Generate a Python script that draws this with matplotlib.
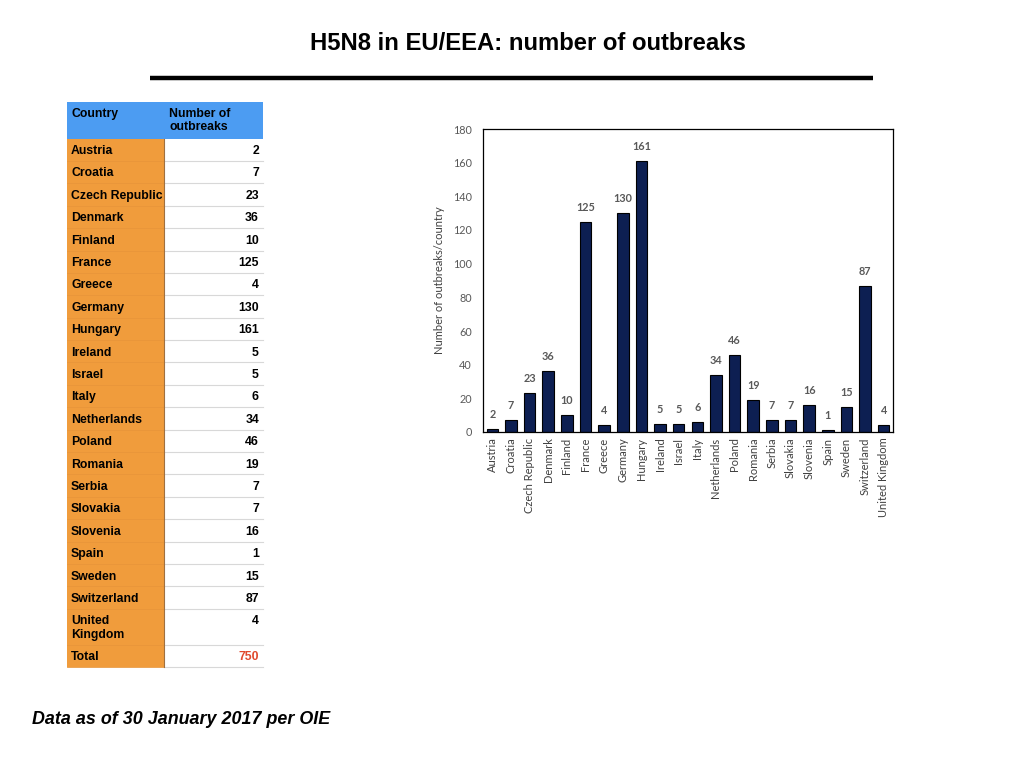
import matplotlib.pyplot as plt
from matplotlib.patches import Rectangle

countries = ['Austria', 'Croatia', 'Czech Republic', 'Denmark', 'Finland', 'France',
             'Greece', 'Germany', 'Hungary', 'Ireland', 'Israel', 'Italy',
             'Netherlands', 'Poland', 'Romania', 'Serbia', 'Slovakia', 'Slovenia',
             'Spain', 'Sweden', 'Switzerland', 'United Kingdom']
outbreaks = [2, 7, 23, 36, 10, 125, 4, 130, 161, 5, 5, 6, 34, 46, 19, 7, 7, 16, 1, 15, 87, 4]
total = 750
y_ticks = [0, 20, 40, 60, 80, 100, 120, 140, 160, 180]

W, H = 1024, 768
fig = plt.figure(figsize=(W / 100, H / 100), dpi=100)

# page-level layer in pixel units
page = fig.add_axes([0, 0, 1, 1])
page.set_xlim(0, W)
page.set_ylim(H, 0)
page.axis('off')

page.text(528, 44, 'H5N8 in EU/EEA: number of outbreaks', ha='center', va='center',
          fontsize=17.2, fontweight='bold', family='Liberation Sans')
page.plot([150, 873], [78, 78], color='black', lw=3.2, solid_capstyle='butt')
page.text(32, 720, 'Data as of 30 January 2017 per OIE', ha='left', va='center',
          fontsize=12.9, fontweight='bold', fontstyle='italic', family='Liberation Sans')

# table
blue = '#4C9CF2'
orange = '#F09C3C'
x0, xm, x1 = 67, 164, 263
hdr_top, hdr_bot = 102, 138.5
row_h = 22.4
tfont = dict(fontsize=8.8, fontweight='bold', family='Liberation Sans')

page.add_patch(Rectangle((x0, hdr_top), x1 - x0, hdr_bot - hdr_top, color=blue, lw=0))
page.text(x0 + 4, hdr_top + 6, 'Country', va='top', **tfont)
page.text(xm + 5, hdr_top + 6, 'Number of\noutbreaks', va='top', linespacing=1.15, **tfont)

rows = [(c, str(v)) for c, v in zip(countries, outbreaks)] + [('Total', str(total))]
y = hdr_bot
for name, val in rows:
    h = row_h * 1.6 if name == 'United Kingdom' else row_h
    page.add_patch(Rectangle((x0, y), xm - x0, h, color=orange, lw=0))
    page.plot([xm, x1], [y + h, y + h], color='#D8D8D8', lw=0.8)
    page.plot([x0, xm], [y + h, y + h], color='#E8953A', lw=0.6)
    label = 'United\nKingdom' if name == 'United Kingdom' else name
    page.text(x0 + 4, y + 6.5, label, va='top', linespacing=1.15, **tfont)
    color = '#E04A2E' if name == 'Total' else 'black'
    page.text(x1 - 4, y + 6.5, val, va='top', ha='right', color=color, **tfont)
    y += h
page.plot([xm, xm], [hdr_bot, y], color='#A07040', lw=0.8)

# bar chart
ax = fig.add_axes([483 / W, 1 - 432 / H, (893 - 483) / W, (432 - 129) / H])
cfont = 'Lato'
gray = '#595959'
pos = range(len(countries))
ax.bar(pos, outbreaks, width=0.62, color='#0D1F52', edgecolor='black', linewidth=0.8)
for p, v in zip(pos, outbreaks):
    ax.annotate(str(v), (p, v), xytext=(0, 6.5), textcoords='offset points',
                ha='center', va='bottom', fontsize=7.8, fontweight='bold', color=gray, family=cfont)
ax.set_xlim(-0.5, len(countries) - 0.5)
ax.set_ylim(0, 180)
ax.set_yticks(y_ticks)
ax.set_xticks(list(pos))
ax.set_xticklabels(countries, rotation=90, fontsize=8, color='#404040', family=cfont)
ax.tick_params(axis='y', labelsize=7.8, labelcolor=gray, length=0, pad=8)
ax.tick_params(axis='x', length=0, pad=4)
for lab in ax.get_yticklabels():
    lab.set_family(cfont)
ax.set_ylabel('Number of outbreaks/country', fontsize=8, color='#404040', family=cfont, labelpad=6)
for s in ax.spines.values():
    s.set_linewidth(0.9)

fig.savefig('out.png', dpi=100)
